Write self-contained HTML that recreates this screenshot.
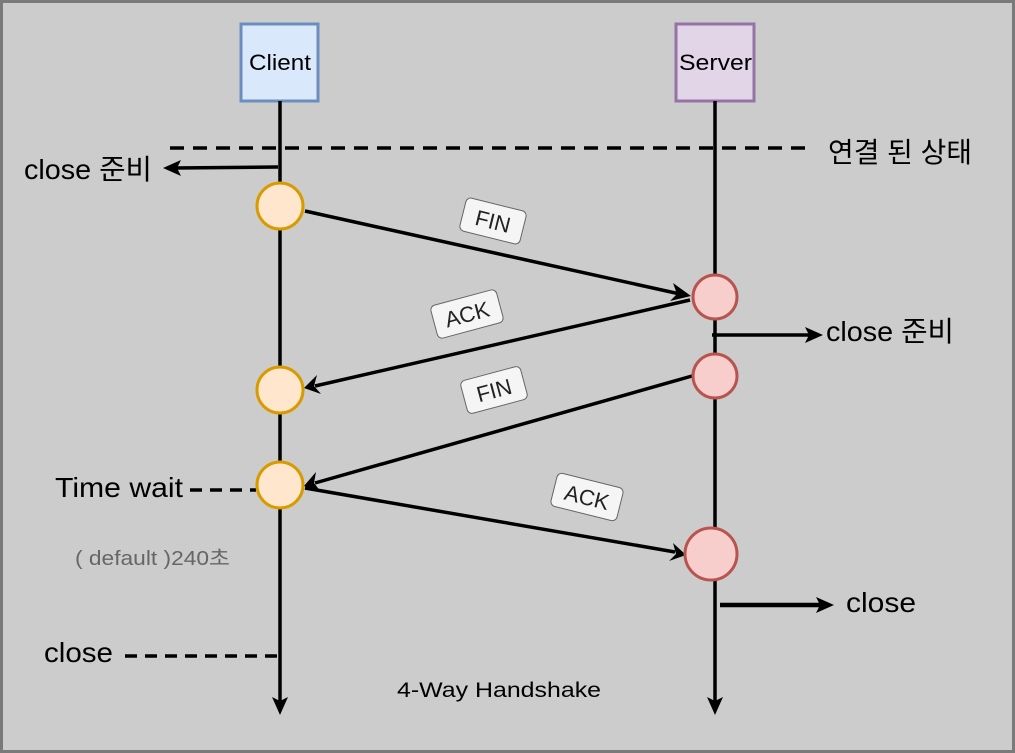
<!DOCTYPE html>
<html><head><meta charset="utf-8"><style>
html,body{margin:0;padding:0;background:#ccc;}
svg{display:block;}
text{font-family:"Liberation Sans","Noto Sans CJK KR",sans-serif;}
</style></head><body>
<svg width="1015" height="753" viewBox="0 0 1015 753" xmlns="http://www.w3.org/2000/svg">
<rect x="1.5" y="1.5" width="1012" height="750" fill="#cccccc" stroke="#7a7a7a" stroke-width="3"/>
<rect x="241" y="24" width="77" height="77" fill="#dae8fc" stroke="#6c8ebf" stroke-width="3"/>
<text x="249" y="70" font-size="22" textLength="62" lengthAdjust="spacingAndGlyphs">Client</text>
<rect x="676" y="24" width="78" height="77" fill="#e1d5e7" stroke="#9673a6" stroke-width="3"/>
<text x="679" y="70" font-size="22" textLength="73" lengthAdjust="spacingAndGlyphs">Server</text>
<g stroke="#000" stroke-width="3.5" fill="none">
<line x1="280" y1="101" x2="280" y2="703"/>
<line x1="715" y1="101" x2="715" y2="703"/>
<line x1="170" y1="148" x2="810" y2="148" stroke-dasharray="14,9"/>
<line x1="190" y1="490" x2="256" y2="490" stroke-dasharray="12,8"/>
<line x1="125" y1="656" x2="283" y2="656" stroke-dasharray="12,8"/>
<line x1="278" y1="167" x2="174" y2="168"/>
<line x1="712" y1="335" x2="810" y2="335"/>
<line x1="720" y1="605" x2="820" y2="605" stroke-width="4.5"/>
<line x1="305" y1="211" x2="680" y2="294"/>
<line x1="690" y1="300" x2="315" y2="386"/>
<line x1="692" y1="376" x2="315" y2="483"/>
<line x1="305" y1="488" x2="675" y2="552"/>
</g>
<g fill="#000">
<polygon points="280,715 272,697 280,701 288,697"/>
<polygon points="715,715 707,697 715,701 723,697"/>
<polygon points="163,168 181,160 177,168 181,176"/>
<polygon points="823,335 805,327 809,335 805,343"/>
<polygon points="834,605 816,597 820,605 816,613"/>
<polygon points="691,296 673,283 677,294 670,301"/>
<polygon points="304,388 317,375 314,386 321,394"/>
<polygon points="304,486 316,472 314,483 321,492"/>
<polygon points="686,555 673,543 676,554 669,561"/>
</g>
<g fill="#ffe6cc" stroke="#d79b00" stroke-width="3">
<circle cx="280" cy="206" r="23"/>
<circle cx="280" cy="390" r="23"/>
<circle cx="280" cy="485" r="23"/>
</g>
<g fill="#f8cecc" stroke="#b85450" stroke-width="3">
<circle cx="715" cy="297" r="22"/>
<circle cx="715" cy="376" r="22"/>
<circle cx="711" cy="554" r="26"/>
</g>
<g font-size="22" fill="#222" text-anchor="middle">
<g transform="translate(493,221) rotate(14)"><rect x="-31" y="-17" width="62" height="34" rx="5" fill="#f5f5f5" stroke="#666" stroke-width="1"/><text y="8">FIN</text></g>
<g transform="translate(467,314) rotate(-15)"><rect x="-34" y="-17" width="68" height="34" rx="5" fill="#f5f5f5" stroke="#666" stroke-width="1"/><text y="8">ACK</text></g>
<g transform="translate(494,390) rotate(-15)"><rect x="-31" y="-17" width="62" height="34" rx="5" fill="#f5f5f5" stroke="#666" stroke-width="1"/><text y="8">FIN</text></g>
<g transform="translate(587,497) rotate(14)"><rect x="-34" y="-17" width="68" height="34" rx="5" fill="#f5f5f5" stroke="#666" stroke-width="1"/><text y="8">ACK</text></g>
</g>
<g font-size="28" fill="#000">
<text x="24" y="179" textLength="128" lengthAdjust="spacingAndGlyphs">close 준비</text>
<text x="828" y="162" textLength="144" lengthAdjust="spacingAndGlyphs">연결 된 상태</text>
<text x="826" y="341" textLength="128" lengthAdjust="spacingAndGlyphs">close 준비</text>
<text x="55" y="497" textLength="128" lengthAdjust="spacingAndGlyphs">Time wait</text>
<text x="44" y="662" textLength="69" lengthAdjust="spacingAndGlyphs">close</text>
<text x="846" y="612" textLength="70" lengthAdjust="spacingAndGlyphs">close</text>
</g>
<text x="75" y="565" font-size="20" fill="#666" textLength="155" lengthAdjust="spacingAndGlyphs">( default )240초</text>
<text x="397" y="697" font-size="21" fill="#000" textLength="204" lengthAdjust="spacingAndGlyphs">4-Way Handshake</text>
</svg>
</body></html>
